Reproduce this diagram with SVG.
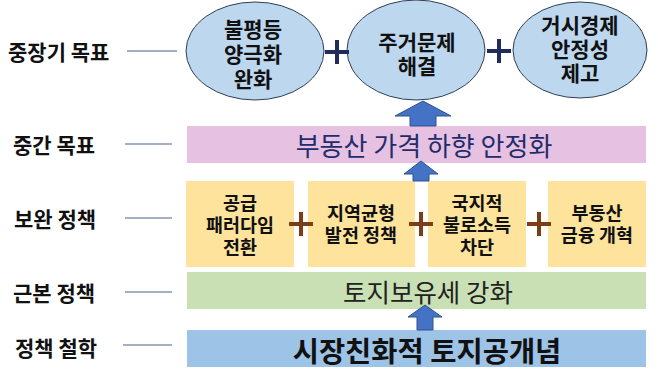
<svg xmlns="http://www.w3.org/2000/svg" width="658" height="378" viewBox="0 0 658 378">
<style>
.lbl{font-family:"Noto Sans CJK KR","Noto Sans",sans-serif;font-weight:bold;font-size:21px;fill:#111;dominant-baseline:central}
.ln{stroke:#8497b0;stroke-width:1.5}
.ell{fill:#bdd7ee;stroke:#2e3f55;stroke-width:1}
.et{font-family:"Noto Sans CJK KR","Noto Sans",sans-serif;font-weight:bold;font-size:21px;fill:#111;text-anchor:middle;dominant-baseline:central}
.yb{fill:#fee39d}
.yt{font-family:"Noto Sans CJK KR","Noto Sans",sans-serif;font-weight:bold;font-size:18.5px;fill:#111;text-anchor:middle;dominant-baseline:central}
.np{stroke:#1f2d5c;stroke-width:4;fill:none}
.bp{stroke:#7e3d14;stroke-width:4;fill:none}
.arr{fill:#4472c4;stroke:#2f528f;stroke-width:1}
</style>
<g id="labels">
<text class="lbl" x="8" y="51">중장기 목표</text>
<text class="lbl" x="13" y="144">중간 목표</text>
<text class="lbl" x="14" y="218">보완 정책</text>
<text class="lbl" x="13" y="292">근본 정책</text>
<text class="lbl" x="15" y="347">정책 철학</text>
<line class="ln" x1="127" y1="51" x2="177" y2="51"/>
<line class="ln" x1="125" y1="144" x2="172" y2="144"/>
<line class="ln" x1="125" y1="218" x2="172" y2="218"/>
<line class="ln" x1="125" y1="292" x2="172" y2="292"/>
<line class="ln" x1="123" y1="345" x2="172" y2="345"/>
</g>
<g id="goal1">
<ellipse class="ell" cx="255" cy="51" rx="69" ry="49"/>
<text class="et" x="253" y="28">불평등</text>
<text class="et" x="253" y="53">양극화</text>
<text class="et" x="253" y="78">완화</text>
</g>
<g id="goal2">
<ellipse class="ell" cx="416" cy="50" rx="69" ry="50"/>
<text class="et" x="417" y="41">주거문제</text>
<text class="et" x="417" y="65">해결</text>
</g>
<g id="goal3">
<ellipse class="ell" cx="580" cy="50" rx="67" ry="48"/>
<text class="et" x="580" y="24">거시경제</text>
<text class="et" x="580" y="48">안정성</text>
<text class="et" x="580" y="72">제고</text>
</g>
<g id="mid">
<rect x="187" y="126" width="459" height="37" fill="#e6c1e2"/>
<text x="424" y="144" font-family="'Noto Sans CJK KR','Noto Sans',sans-serif" font-size="26" fill="#1f2d6b" text-anchor="middle" dominant-baseline="central">부동산 가격 하향 안정화</text>
</g>
<g id="sup1"><rect class="yb" x="186" y="181" width="108" height="86"/>
<text class="yt" x="240" y="202">공급</text><text class="yt" x="240" y="224">패러다임</text><text class="yt" x="240" y="246">전환</text></g>
<g id="sup2"><rect class="yb" x="308" y="181" width="107" height="86"/>
<text class="yt" x="361" y="212">지역균형</text><text class="yt" x="361" y="234">발전 정책</text></g>
<g id="sup3"><rect class="yb" x="428" y="181" width="98" height="86"/>
<text class="yt" x="477" y="202">국지적</text><text class="yt" x="477" y="224">불로소득</text><text class="yt" x="477" y="246">차단</text></g>
<g id="sup4"><rect class="yb" x="548" y="181" width="98" height="86"/>
<text class="yt" x="597" y="212">부동산</text><text class="yt" x="597" y="234">금융 개혁</text></g>
<g id="base">
<rect x="187" y="272" width="459" height="37" fill="#c9e0b5"/>
<text x="428" y="290" font-family="'Noto Sans CJK KR','Noto Sans',sans-serif" font-size="25.5" fill="#222" text-anchor="middle" dominant-baseline="central">토지보유세 강화</text>
</g>
<g id="phil">
<rect x="187" y="330" width="459" height="37" fill="#9dc3e6"/>
<text x="427" y="349" font-family="'Noto Sans CJK KR','Noto Sans',sans-serif" font-size="28.5" font-weight="bold" fill="#111" text-anchor="middle" dominant-baseline="central">시장친화적 토지공개념</text>
</g>
<g id="connectors">
<path class="np" d="M325 52H349M337 40V64"/>
<path class="np" d="M487 51H511M499 39V63"/>
<path class="bp" d="M289 224H313M301 212V236"/>
<path class="bp" d="M409 224H433M421 212V236"/>
<path class="bp" d="M527 224H551M539 212V236"/>
<path class="arr" d="M423 101L451 116H436V126H410V116H395Z"/>
<path class="arr" d="M421 161L438 174H429V181H413V174H404Z"/>
<path class="arr" d="M425 305L442 317H433V330H417V317H408Z"/>
</g>
</svg>
